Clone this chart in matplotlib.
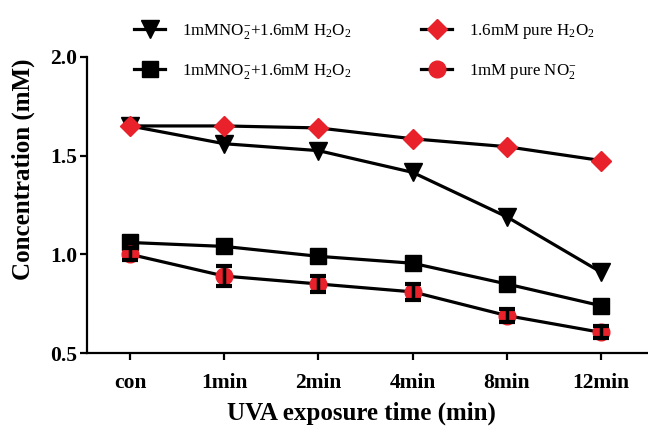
import matplotlib
matplotlib.use("Agg")
import matplotlib.pyplot as plt

plt.rcParams["font.family"] = ["Liberation Serif", "DejaVu Serif"]
plt.rcParams["mathtext.fontset"] = "custom"
plt.rcParams["mathtext.rm"] = "Liberation Serif"
plt.rcParams["mathtext.it"] = "Liberation Serif:italic"
plt.rcParams["mathtext.bf"] = "Liberation Serif:bold"

# data
times = ["con", "1min", "2min", "4min", "8min", "12min"]
mix_tri = [1.65, 1.56, 1.525, 1.415, 1.19, 0.91]
pure_h2o2 = [1.65, 1.65, 1.64, 1.585, 1.545, 1.475]
mix_sq = [1.06, 1.04, 0.99, 0.955, 0.85, 0.74]
pure_no2 = [1.0, 0.89, 0.85, 0.81, 0.69, 0.605]
pure_no2_err = [0.03, 0.05, 0.04, 0.04, 0.035, 0.03]

labels = [r"1mMNO$_2^{-}$+1.6mM H$_2$O$_2$",
          r"1.6mM pure H$_2$O$_2$",
          r"1mMNO$_2^{-}$+1.6mM H$_2$O$_2$",
          r"1mM pure NO$_2^{-}$"]

red = "#e8212a"
x = list(range(len(times)))

fig = plt.figure(figsize=(6.48, 4.37), dpi=100)
ax = fig.add_axes([0.134, 0.192, 0.866, 0.678])

l1, = ax.plot(x, mix_tri, color="black", lw=2.3, marker="v", ms=13,
              mfc="black", mec="black", zorder=3)
l2, = ax.plot(x, pure_h2o2, color="black", lw=2.3, marker="D", ms=10,
              mfc=red, mec=red, zorder=3)
l3, = ax.plot(x, mix_sq, color="black", lw=2.3, marker="s", ms=12,
              mfc="black", mec="black", zorder=3)
l4, = ax.plot(x, pure_no2, color="black", lw=2.3, marker="o", ms=12,
              mfc=red, mec=red, zorder=3)
ax.errorbar(x, pure_no2, yerr=pure_no2_err, fmt="none", ecolor="black",
            elinewidth=2.5, capsize=6, capthick=3, zorder=4)

ax.set_xlim(-0.46, 5.5)
ax.set_ylim(0.5, 2.0)
ax.set_yticks([0.5, 1.0, 1.5, 2.0])
ax.set_xticks(x)
ax.set_xticklabels(times)
for s in ["top", "right"]:
    ax.spines[s].set_visible(False)
for s in ["left", "bottom"]:
    ax.spines[s].set_linewidth(1.6)
ax.tick_params(width=1.6, length=5, labelsize=15.5)
ax.tick_params(axis="x", pad=9)
ax.tick_params(axis="y", pad=2)
for t in ax.get_xticklabels() + ax.get_yticklabels():
    t.set_fontweight("bold")

ax.set_xlabel("UVA exposure time (min)", fontsize=18, fontweight="bold")
ax.xaxis.set_label_coords(0.49, -0.165)
ax.set_ylabel("Concentration (mM)", fontsize=18, fontweight="bold")
ax.yaxis.set_label_coords(-0.093, 0.62)

fig.legend([l1, l3, l2, l4], [labels[0], labels[2], labels[1], labels[3]],
           ncol=2, frameon=False, loc="upper left",
           bbox_to_anchor=(0.183, 0.985), fontsize=12.2, handlelength=1.85,
           handletextpad=1.0, columnspacing=4.1, labelspacing=1.25)

fig.savefig("out.png", dpi=100)
